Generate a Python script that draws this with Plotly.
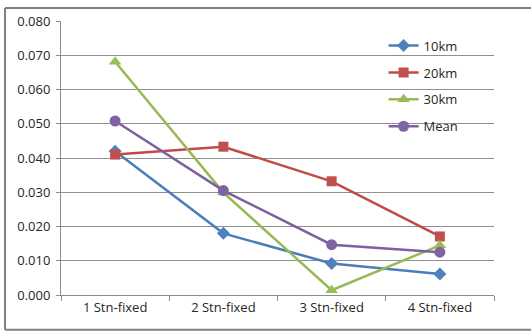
import plotly.graph_objects as go

# Error per configuration of fixed stations
categories = ["1 Stn-fixed", "2 Stn-fixed", "3 Stn-fixed", "4 Stn-fixed"]
km10 = [0.042, 0.018, 0.0092, 0.0061]
km20 = [0.041, 0.0433, 0.0332, 0.0171]
km30 = [0.0681, 0.0299, 0.0014, 0.0145]
mean = [0.0508, 0.0305, 0.0147, 0.0125]
y_ticks = [0.0, 0.01, 0.02, 0.03, 0.04, 0.05, 0.06, 0.07, 0.08]

series = [
    ("10km", km10, "#4A7EBB", "#4F81BD", "diamond", 10),
    ("20km", km20, "#BE4B48", "#C0504D", "square", 10),
    ("30km", km30, "#98B954", "#9BBB59", "triangle-up", 11),
    ("Mean", mean, "#7D60A0", "#8064A2", "circle", 11),
]

fig = go.Figure()
for name, vals, lc, mc, sym, sz in series:
    fig.add_trace(go.Scatter(
        x=categories, y=vals, name=name, mode="lines+markers",
        line=dict(color=lc, width=2.5),
        marker=dict(symbol=sym, size=sz, color=mc, line=dict(width=0)),
        legendgroup=name,
    ))

font = dict(family="Open Sans, Arial, sans-serif", size=13, color="#262626")

# chart frame: left, top and bottom edges running to the right page edge
frame = dict(color="#7f7f7f", width=2)
x_left, x_right, y_bot, y_top = -0.1293, 1.0855, -0.1264, 1.047
frame_shapes = [
    dict(type="line", xref="paper", yref="paper", x0=x_left, x1=x_left, y0=y_bot, y1=y_top, line=frame),
    dict(type="line", xref="paper", yref="paper", x0=x_left, x1=x_right, y0=y_top, y1=y_top, line=frame),
    dict(type="line", xref="paper", yref="paper", x0=x_left, x1=x_right, y0=y_bot, y1=y_bot, line=frame),
]

fig.update_layout(
    width=531, height=331,
    margin=dict(l=61, r=37, t=18, b=36),
    paper_bgcolor="white", plot_bgcolor="white",
    font=font,
    showlegend=True,
    legend=dict(
        x=0.745, y=0.965, xanchor="left", yanchor="top",
        bgcolor="rgba(0,0,0,0)", tracegroupgap=7,
        itemwidth=30, font=font,
    ),
    xaxis=dict(
        type="category", tickson="boundaries",
        showgrid=False, showline=True, linecolor="#8c8c8c", linewidth=1,
        ticks="outside", ticklen=5, tickcolor="#8c8c8c",
        range=[-0.5, 3.5], fixedrange=True,
    ),
    yaxis=dict(
        range=[0, 0.08], tickvals=y_ticks, tickformat=".3f",
        showgrid=True, gridcolor="#8f8f8f", gridwidth=1,
        showline=True, linecolor="#8c8c8c", linewidth=1,
        ticks="outside", ticklen=4, tickcolor="#8c8c8c",
        ticklabelstandoff=3, zeroline=False,
    ),
    shapes=frame_shapes,
)

fig.write_html("out.html")
